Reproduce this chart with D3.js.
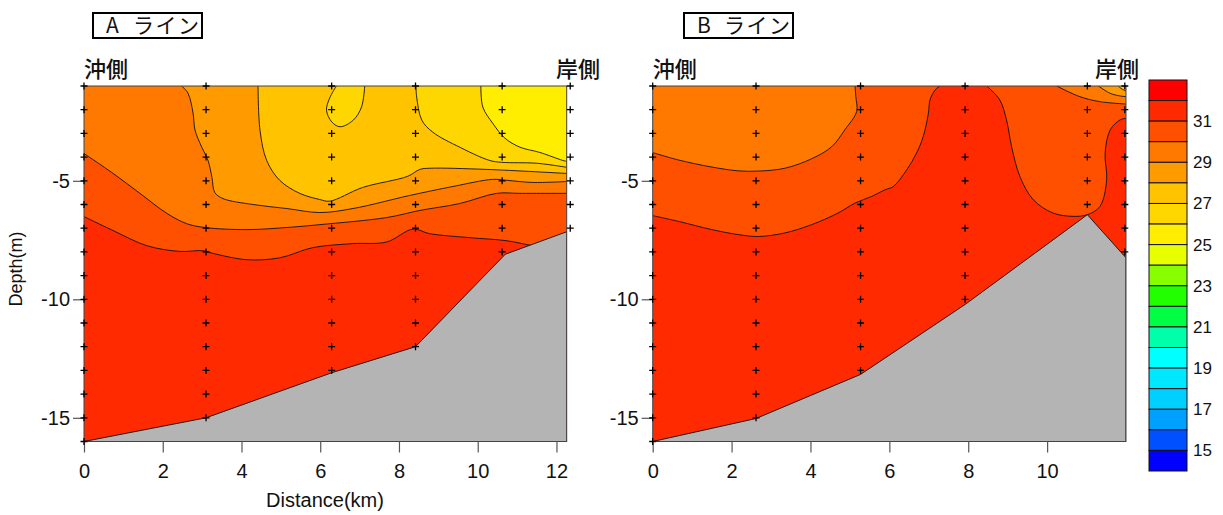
<!DOCTYPE html>
<html><head><meta charset="utf-8">
<script src="https://cdn.jsdelivr.net/npm/d3@7"></script>
<style>body{margin:0;background:#fff} svg{display:block}</style>
</head><body>
<svg id="chart" width="1223" height="515"></svg>
<script>
// ---------------- data ----------------
const depthTop = -1, depthBottom = -16;
const yTicks = [-5, -10, -15];
const xTicksA = [0, 2, 4, 6, 8, 10, 12];
const xTicksB = [0, 2, 4, 6, 8, 10];
const xMaxA = 12.26, xMaxB = 12.0;

// colour-bar: band boundaries 33 -> 14, one band per unit
const cbTop = 33, cbBottom = 14;
const bandColors = ["#FF0000","#FF2A00","#FF5000","#FF7800","#FF9A00","#FFC300","#FFD700","#FFEE00",
  "#E8FF00","#88FF00","#22FF00","#00FF44","#00FFAA","#00FFFF","#00E8FF","#00D0FF","#00A0FF","#0050FF","#0000FF"];
const cbLabels = [31, 29, 27, 25, 23, 21, 19, 17, 15];

// stations (km) and deepest sample (m)
const stationsA = [0, 3.10, 6.29, 8.42, 10.62, 12.35];
const sampleDepthsA = [16, 15, 13, 12, 8, 7];
const stationsB = [0, 2.62, 5.27, 7.92, 11.02, 11.97];
const sampleDepthsB = [16, 15, 13, 10, 6, 8];

// sea bottom profiles (km, depth m)
const seabedA = [[0,-16],[3.10,-15.0],[6.29,-13.1],[8.42,-12.0],[10.70,-8.1],[12.26,-7.15]];
const seabedB = [[0,-16],[2.62,-15.03],[5.27,-13.17],[7.92,-10.22],[11.02,-6.43],[12.0,-8.25]];

// contour lines (km, depth m)
const A31 = [[0,-6.51],[0.74,-7.10],[1.60,-7.74],[2.44,-7.98],[3.02,-7.95],[3.27,-8.06],[4.14,-8.33],[4.97,-8.25],[5.81,-7.82],[6.83,-7.65],[7.69,-7.58],[8.35,-7.04],[8.78,-7.23],[9.80,-7.40],[10.74,-7.53],[11.40,-7.74],[12.26,-7.95]];
const A30 = [[0,-3.85],[0.74,-4.69],[1.42,-5.53],[2.11,-6.38],[2.61,-6.81],[3.07,-6.97],[4.14,-7.06],[5.15,-6.97],[5.99,-6.85],[7.69,-6.55],[8.53,-6.25],[9.54,-5.96],[10.48,-5.53],[11.07,-5.53],[12.26,-5.53]];
const A29 = [[2.48,-1],[2.64,-1.30],[2.77,-2.14],[2.82,-2.86],[2.99,-3.58],[3.15,-4.14],[3.25,-4.86],[3.32,-5.49],[3.53,-5.75],[4.29,-6.0],[5.15,-6.17],[5.99,-6.34],[6.83,-6.17],[8.27,-5.62],[9.37,-5.24],[10.38,-4.94],[10.74,-4.98],[11.40,-5.07],[12.26,-5.03]];
const A28 = [[4.42,-1],[4.47,-2.86],[4.64,-4.14],[4.97,-4.98],[5.48,-5.53],[5.99,-5.79],[6.24,-5.86],[7.08,-5.28],[8.22,-4.81],[8.53,-4.52],[8.78,-4.47],[10.23,-4.52],[12.26,-4.69]];
const A27 = [[8.43,-1],[8.45,-1.47],[8.58,-2.44],[8.86,-2.95],[9.54,-3.58],[10.30,-4.14],[10.61,-4.22],[11.50,-4.26],[12.26,-4.43]];
const A27loop = [[6.41,-1],[6.24,-1.51],[6.16,-2.02],[6.29,-2.51],[6.50,-2.72],[6.84,-2.44],[7.05,-1.88],[7.13,-1]];
const A26 = [[10.08,-1],[10.13,-1.89],[10.38,-2.57],[10.69,-3.20],[11.07,-3.58],[11.57,-3.80],[12.16,-4.14],[12.26,-4.18]];

const B31a = [[0,-6.47],[0.65,-6.71],[1.50,-7.06],[2.17,-7.27],[2.68,-7.35],[3.35,-7.20],[4.03,-6.85],[4.70,-6.36],[5.13,-5.94],[5.55,-5.66],[5.89,-5.38],[6.10,-5.24],[6.44,-4.54],[6.69,-3.83],[6.86,-3.13],[6.99,-2.15],[7.03,-1.59],[7.16,-1.17],[7.28,-1]];
const B31b = [[8.47,-1],[8.80,-1.59],[8.97,-2.43],[9.10,-3.56],[9.31,-4.82],[9.65,-5.80],[10.15,-6.36],[10.66,-6.50],[11.02,-6.43],[11.34,-6.08],[11.51,-4.96],[11.47,-3.83],[11.60,-2.85],[11.85,-2.43],[12.0,-2.36]];
const B30a = [[0,-3.81],[0.65,-4.12],[1.50,-4.42],[2.17,-4.58],[2.68,-4.59],[3.35,-4.47],[4.03,-4.07],[4.54,-3.56],[4.87,-2.85],[5.17,-2.08],[5.15,-1.45],[5.13,-1]];
const B30b = [[10.24,-1],[10.83,-1.45],[11.34,-1.66],[12.0,-1.76]];
const B29 = [[11.30,-1],[11.60,-1.31],[11.85,-1.42],[12.0,-1.45]];
const B28 = [[11.80,-1],[11.90,-1.13],[12.0,-1.21]];

const contoursA = [{level:31,pts:A31},{level:30,pts:A30},{level:29,pts:A29},{level:28,pts:A28},{level:27,pts:A27},{level:27,pts:A27loop},{level:26,pts:A26}];
const contoursB = [{level:31,pts:B31a},{level:31,pts:B31b},{level:30,pts:B30a},{level:30,pts:B30b},{level:29,pts:B29},{level:28,pts:B28}];

// ---------------- drawing ----------------
const svg = d3.select("#chart");
const FONT = "'Liberation Sans', Arial, sans-serif";
const JFONT = "'Noto Sans CJK JP', sans-serif";
const plotTop = 86, plotBottom = 441.5;

const bandColorFor = lo => bandColors[cbTop - lo - 1]; // band (lo, lo+1)

function drawPanel(cfg) {
  const g = svg.append("g");
  const x = d3.scaleLinear().domain([0, cfg.xMax]).range([cfg.x0, cfg.x1]);
  const y = d3.scaleLinear().domain([depthTop, depthBottom]).range([plotTop, plotBottom]);
  const curve = d3.line().x(d => x(d[0])).y(d => y(d[1])).curve(d3.curveCatmullRom.alpha(0.5));
  const straight = d3.line().x(d => x(d[0])).y(d => y(d[1]));

  const cid = "clip" + cfg.id;
  svg.append("clipPath").attr("id", cid).append("rect")
    .attr("x", x(0)).attr("y", y(depthTop)).attr("width", x(cfg.xMax) - x(0)).attr("height", y(depthBottom) - y(depthTop));
  const gc = g.append("g").attr("clip-path", `url(#${cid})`);

  // base band (31-32)
  gc.append("rect").attr("x", x(0)).attr("y", y(depthTop)).attr("width", x(cfg.xMax) - x(0))
    .attr("height", y(depthBottom) - y(depthTop)).attr("fill", bandColorFor(31));

  const eps = 0.02;
  const sorted = cfg.contours.slice().sort((a, b) => b.level - a.level);
  sorted.forEach(c => {
    const pts = c.pts, first = pts[0], last = pts[pts.length - 1];
    const close = [];
    if (Math.abs(last[0] - cfg.xMax) < eps) close.push([cfg.xMax, depthTop]);
    if (Math.abs(first[0]) < eps) close.push([0, depthTop]);
    const d = curve(pts) + close.map(p => `L${x(p[0])},${y(p[1])}`).join("") + "Z";
    gc.append("path").attr("d", d).attr("fill", bandColorFor(c.level - 1)).attr("stroke", "none");
  });
  sorted.forEach(c => {
    gc.append("path").attr("d", curve(c.pts)).attr("fill", "none").attr("stroke", "#111").attr("stroke-width", 0.9);
  });

  // sea bottom
  const bed = cfg.seabed.concat([[cfg.xMax, depthBottom], [0, depthBottom]]);
  gc.append("path").attr("d", straight(bed) + "Z").attr("fill", "#B4B4B4").attr("stroke", "#111").attr("stroke-width", 0.9);

  // frame
  g.append("rect").attr("x", x(0)).attr("y", y(depthTop)).attr("width", x(cfg.xMax) - x(0))
    .attr("height", y(depthBottom) - y(depthTop)).attr("fill", "none").attr("stroke", "#444").attr("stroke-width", 1);

  // axes
  const ya = g.append("g").attr("transform", `translate(${x(0)},0)`)
    .call(d3.axisLeft(y).tickValues(yTicks).tickSize(11).tickPadding(3).tickFormat(d3.format("d")));
  const xa = g.append("g").attr("transform", `translate(0,${y(depthBottom)})`)
    .call(d3.axisBottom(x).tickValues(cfg.xTicks).tickSize(11).tickPadding(11).tickFormat(d3.format("d")));
  [ya, xa].forEach(a => {
    a.select(".domain").remove();
    a.selectAll("line").attr("stroke", "#555").attr("stroke-width", 1.2);
    a.selectAll("text").attr("font-family", FONT).attr("font-size", 20).attr("fill", "#111");
  });
  ya.selectAll("text").text(d => "-" + Math.abs(d));

  // sample markers
  const marks = [];
  cfg.stations.forEach((s, i) => { d3.range(1, cfg.depths[i] + 1).forEach(dd => marks.push([s, -dd])); });
  g.append("g").selectAll("path").data(marks).join("path")
    .attr("d", d => { const px = x(d[0]), py = y(d[1]); return `M${px-3.5},${py}H${px+3.5}M${px},${py-3.5}V${py+3.5}`; })
    .attr("stroke", "#000").attr("stroke-width", 1.3).attr("fill", "none");

  // side labels
  g.append("text").attr("x", x(0)).attr("y", 76.5).attr("font-family", JFONT).attr("font-size", 22)
    .attr("font-weight", 500).attr("fill", "#111").text("沖側");
  g.append("text").attr("x", cfg.shoreX).attr("y", 76.5).attr("font-family", JFONT).attr("font-size", 22)
    .attr("font-weight", 500).attr("fill", "#111").text("岸側");

  // title box
  g.append("rect").attr("x", cfg.boxX).attr("y", 13).attr("width", 109).attr("height", 25)
    .attr("fill", "#fff").attr("stroke", "#000").attr("stroke-width", 2);
  const t = g.append("text").attr("y", 33).attr("font-family", JFONT).attr("font-size", 21).attr("fill", "#111");
  t.append("tspan").attr("x", cfg.boxX + 13).text(cfg.id);
  t.append("tspan").attr("x", cfg.boxX + 40).attr("letter-spacing", 1.5).text("ライン");

  return {x, y};
}

drawPanel({id: "A", xMax: xMaxA, x0: 84, x1: 566.7, xTicks: xTicksA, contours: contoursA,
  seabed: seabedA, stations: stationsA, depths: sampleDepthsA, shoreX: 556, boxX: 93});
drawPanel({id: "B", xMax: xMaxB, x0: 652.7, x1: 1126, xTicks: xTicksB, contours: contoursB,
  seabed: seabedB, stations: stationsB, depths: sampleDepthsB, shoreX: 1095, boxX: 684});

// axis titles
svg.append("text").attr("x", 325).attr("y", 507).attr("text-anchor", "middle")
  .attr("font-family", FONT).attr("font-size", 20).attr("fill", "#111").text("Distance(km)");
svg.append("text").attr("transform", "translate(22,269) rotate(-90)").attr("text-anchor", "middle")
  .attr("font-family", FONT).attr("font-size", 18).attr("fill", "#111").text("Depth(m)");

// colour bar
const cb = d3.scaleLinear().domain([cbTop, cbBottom]).range([80, 471]);
const cbg = svg.append("g");
cbg.selectAll("rect").data(bandColors).join("rect")
  .attr("x", 1149).attr("width", 38)
  .attr("y", (c, i) => cb(cbTop - i)).attr("height", (c, i) => cb(cbTop - i - 1) - cb(cbTop - i))
  .attr("fill", c => c).attr("stroke", "#111").attr("stroke-width", 1);
cbg.selectAll("text").data(cbLabels).join("text")
  .attr("x", 1193).attr("y", d => cb(d)).attr("dy", "0.35em")
  .attr("font-family", FONT).attr("font-size", 17).attr("fill", "#111").text(d => d);
</script>
</body></html>
